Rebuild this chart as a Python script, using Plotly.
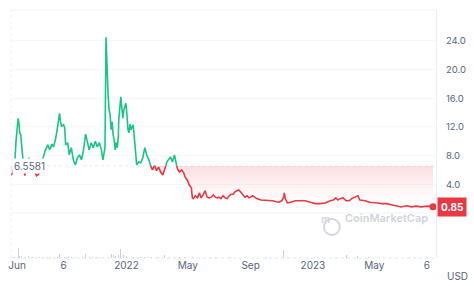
import plotly.graph_objects as go
import pandas as pd
import numpy as np

# ---------------- data ----------------
start_date = "2021-05-20"
day_offsets = [0, 4, 6, 8, 10, 14, 16, 17, 19, 21, 23, 27, 31, 35, 39, 43, 47, 50, 54, 58,
               62, 66, 68, 72, 76, 80, 83, 87, 91, 95, 97, 99, 103, 105, 107, 111, 114, 118, 122, 126,
               130, 134, 138, 142, 146, 149, 153, 157, 161, 165, 169, 173, 177, 180, 184, 186, 188, 190, 192, 194,
               196, 198, 200, 202, 204, 206, 208, 210, 211, 215, 217, 219, 221, 225, 227, 229, 231, 233, 235, 239,
               241, 243, 246, 250, 254, 258, 262, 266, 270, 274, 277, 281, 285, 289, 293, 297, 301, 305, 308, 312,
               316, 320, 324, 326, 330, 334, 338, 341, 345, 349, 353, 355, 357, 361, 365, 369, 372, 376, 380, 384,
               388, 392, 396, 400, 404, 407, 411, 415, 419, 423, 427, 431, 435, 438, 442, 446, 450, 454, 458, 462,
               466, 469, 473, 477, 481, 489, 497, 504, 512, 524, 530, 534, 535, 537, 541, 547, 557, 566, 576, 586,
               596, 605, 615, 625, 631, 636, 640, 644, 650, 656, 662, 667, 675, 679, 683, 693, 702, 712, 718, 726,
               735, 747, 757, 764, 774, 784, 793, 803, 815, 826]
prices = [5.3, 5.7, 6.6, 7.7, 10.2, 13.2, 12.3, 11.2, 10.9, 8.8, 7.4, 5.2, 6.3, 7.7, 6.3, 6.0, 5.7, 5.2, 5.4, 6.6,
          7.4, 8.5, 8.8, 9.5, 8.8, 9.6, 9.2, 10.2, 11.9, 13.9, 12.7, 12.1, 12.3, 11.9, 9.5, 9.8, 8.1, 9.1, 7.4, 6.7,
          7.7, 8.1, 7.4, 8.8, 11.0, 9.9, 8.8, 9.8, 9.1, 10.0, 9.2, 9.8, 8.8, 7.4, 9.1, 24.5, 18.5, 16.5, 14.4, 13.7,
          11.6, 12.7, 10.9, 10.2, 8.8, 9.8, 9.1, 10.5, 13.0, 16.2, 14.6, 13.2, 14.4, 15.3, 13.7, 11.6, 11.2, 12.4, 11.6, 12.3,
          10.9, 8.8, 6.7, 7.1, 7.0, 7.7, 9.1, 8.0, 7.4, 6.4, 6.0, 6.6, 5.9, 6.4, 5.7, 5.3, 6.0, 7.1, 7.4, 7.8,
          7.1, 8.1, 6.7, 6.1, 5.7, 6.0, 5.6, 5.0, 4.6, 3.9, 3.5, 2.1, 2.0, 2.4, 2.1, 2.8, 2.1, 2.5, 3.1, 2.2,
          2.1, 2.2, 2.5, 2.2, 2.1, 2.2, 2.0, 2.4, 2.1, 2.0, 2.4, 2.6, 2.6, 2.9, 3.1, 3.2, 2.9, 2.5, 2.2, 2.4,
          2.1, 2.2, 2.4, 2.2, 2.0, 1.8, 1.8, 1.8, 1.7, 1.5, 1.7, 2.2, 2.8, 2.0, 1.4, 1.5, 1.7, 1.7, 1.7, 1.5,
          1.3, 1.3, 1.4, 1.7, 1.8, 2.1, 1.8, 2.0, 2.1, 1.7, 1.7, 2.0, 2.2, 2.4, 1.8, 1.7, 1.5, 1.5, 1.4, 1.3,
          1.3, 1.1, 1.0, 0.84, 1.0, 0.85, 0.95, 0.85, 0.95, 0.85]
baseline = 6.5581
last_price = 0.85

vol_days = [0, 7, 14, 16, 21, 28, 35, 42, 49, 56, 63, 70, 77, 84, 91, 95, 98, 105, 112, 119,
            126, 133, 140, 146, 153, 160, 167, 174, 180, 186, 188, 192, 196, 200, 205, 211, 215, 220, 226, 233,
            240, 247, 254, 261, 268, 275, 282, 289, 301, 310, 320, 330, 340, 355, 370, 400, 430, 460, 500, 534,
            560, 600, 640, 656, 679, 700, 740, 780, 815]
vol_values = [4, 3, 29, 6, 5, 4, 5, 4, 3, 4, 3, 4, 3, 4, 3, 11, 6, 4, 3, 4,
              3, 4, 3, 11, 4, 3, 4, 3, 5, 100, 20, 23, 12, 8, 6, 9, 26, 10, 5, 4,
              4, 3, 4, 3, 4, 3, 3, 4, 8, 3, 3, 2, 3, 2, 2, 2, 2, 2, 2, 23,
              2, 2, 2, 8, 5, 2, 2, 2, 4]

y_tick_vals = [4, 8, 12, 16, 20, 24]
x_tick_dates = ["2021-06-01", "2021-08-31", "2022-01-01", "2022-05-01",
                "2022-09-01", "2023-01-01", "2023-05-01", "2023-08-12"]
x_tick_labels = ["Jun", "6", "2022", "May", "Sep", "2023", "May", "6"]
x_range = ["2021-05-20", "2023-08-30"]

GREEN = "#16c784"
RED = "#ea3943"
GREY = "#58667e"

# ------------- split series at baseline crossings -------------
t0 = pd.Timestamp(start_date)
d = np.array(day_offsets, dtype=float)
p = np.array(prices, dtype=float)

full_d, full_p = [d[0]], [p[0]]
for i in range(1, len(d)):
    a, b = p[i - 1] - baseline, p[i] - baseline
    if a * b < 0:
        f = a / (a - b)
        full_d.append(d[i - 1] + f * (d[i] - d[i - 1]))
        full_p.append(baseline)
    full_d.append(d[i])
    full_p.append(p[i])
full_d = np.array(full_d)
full_p = np.array(full_p)
full_x = [t0 + pd.to_timedelta(v, unit="D") for v in full_d]


def segment(cond):
    xs, ys = [], []
    prev = False
    for i in range(len(full_p)):
        ok = cond(full_p[i])
        if ok:
            xs.append(full_x[i])
            ys.append(full_p[i])
        elif prev:
            xs.append(None)
            ys.append(None)
        prev = ok
    return xs, ys


gx, gy = segment(lambda v: v >= baseline - 1e-9)
rx, ry = segment(lambda v: v <= baseline + 1e-9)

vol_x = [t0 + pd.to_timedelta(v, unit="D") for v in vol_days]

fig = go.Figure()

# volume bars
fig.add_trace(go.Bar(x=vol_x, y=vol_values, yaxis="y2", marker_color="rgba(160,170,190,0.55)",
                     marker_line_width=0, width=86400000 * 1.6, hoverinfo="skip"))

# red fill between baseline and price
fig.add_trace(go.Scatter(x=full_x, y=[baseline] * len(full_x), mode="lines",
                         line=dict(width=0), hoverinfo="skip"))
fig.add_trace(go.Scatter(x=full_x, y=np.minimum(full_p, baseline), mode="lines",
                         line=dict(width=0), fill="tonexty",
                         fillgradient=dict(type="vertical", start=1.2, stop=baseline,
                                           colorscale=[[0, "rgba(234,57,67,0.0)"],
                                                       [0.4, "rgba(234,57,67,0.05)"],
                                                       [1, "rgba(234,57,67,0.16)"]]),
                         hoverinfo="skip"))

# lines
fig.add_trace(go.Scatter(x=gx, y=gy, mode="lines", line=dict(color=GREEN, width=1.6),
                         connectgaps=False))
fig.add_trace(go.Scatter(x=rx, y=ry, mode="lines", line=dict(color=RED, width=1.6),
                         connectgaps=False))

# last point
fig.add_trace(go.Scatter(x=[full_x[-1]], y=[last_price], mode="markers",
                         marker=dict(color=RED, size=7)))

y_lo, y_hi = -6.28, 28.3

fig.update_layout(
    width=474, height=286,
    margin=dict(l=8, r=37, t=10, b=28),
    paper_bgcolor="white", plot_bgcolor="white",
    showlegend=False,
    font=dict(family="Inter, Noto Sans, sans-serif", color=GREY, size=10),
    bargap=0,
    xaxis=dict(type="date", range=x_range, tickvals=x_tick_dates, ticktext=x_tick_labels,
               showgrid=False, zeroline=False, showline=False, ticks="",
               tickfont=dict(size=10, color=GREY)),
    yaxis=dict(range=[y_lo, y_hi], side="right", tickvals=y_tick_vals,
               tickformat=".1f", showgrid=True, gridcolor="rgba(88,102,126,0.05)",
               zeroline=False, showline=True, linecolor="#eceff3", linewidth=1,
               ticks="", ticklabelstandoff=7, tickfont=dict(size=9.5, color=GREY)),
    yaxis2=dict(overlaying="y", range=[0, 709], visible=False),
)

# frame lines
fig.add_shape(type="line", xref="paper", yref="paper", x0=0, x1=1, y0=1, y1=1,
              line=dict(color="#f1f3f6", width=1))
fig.add_shape(type="line", xref="paper", yref="paper", x0=0, x1=0, y0=0, y1=1,
              line=dict(color="#eef0f3", width=1, dash="dot"))
fig.add_shape(type="line", xref="paper", yref="paper", x0=0, x1=1, y0=0, y1=0,
              line=dict(color="#e3e6ec", width=1, dash="dot"))
fig.add_shape(type="line", xref="paper", yref="y", x0=0, x1=1, y0=0, y1=0,
              line=dict(color="#f1f3f6", width=1))
fig.add_shape(type="line", xref="paper", yref="y", x0=0, x1=1, y0=baseline, y1=baseline,
              line=dict(color="#e8eaee", width=1, dash="dot"), layer="below")

# baseline label
fig.add_annotation(x=0, xref="paper", y=baseline, yref="y", text="6.5581", showarrow=False,
                   xanchor="left", yanchor="middle", xshift=1, bgcolor="white",
                   font=dict(size=10, color=GREY), borderpad=1)

# last price label
fig.add_annotation(x=1, xref="paper", y=last_price, yref="y", text="<b>0.85</b>", showarrow=False,
                   xanchor="left", yanchor="middle", xshift=1, bgcolor=RED,
                   font=dict(size=10, color="white"), borderpad=3)

# USD label
fig.add_annotation(x=1, xref="paper", y=0, yref="paper", text="USD", showarrow=False,
                   xanchor="left", yanchor="top", xshift=9, yshift=-10,
                   font=dict(size=10, color=GREY))

# watermark
fig.add_shape(type="circle", xref="paper", yref="paper", xsizemode="pixel", ysizemode="pixel",
              xanchor=0.755, yanchor=0.125, x0=-8, x1=8, y0=-8, y1=8,
              line=dict(color="#d3d8e0", width=2))
fig.add_annotation(x=0.755, xref="paper", y=0.125, yref="paper", text="<b>m</b>", showarrow=False,
                   font=dict(size=10, color="#d3d8e0"))
fig.add_annotation(x=0.78, xref="paper", y=0.125, yref="paper", text="CoinMarketCap",
                   showarrow=False, xanchor="left",
                   font=dict(size=11, color="#cfd4dc", weight=600))

fig.write_html("out.html")
